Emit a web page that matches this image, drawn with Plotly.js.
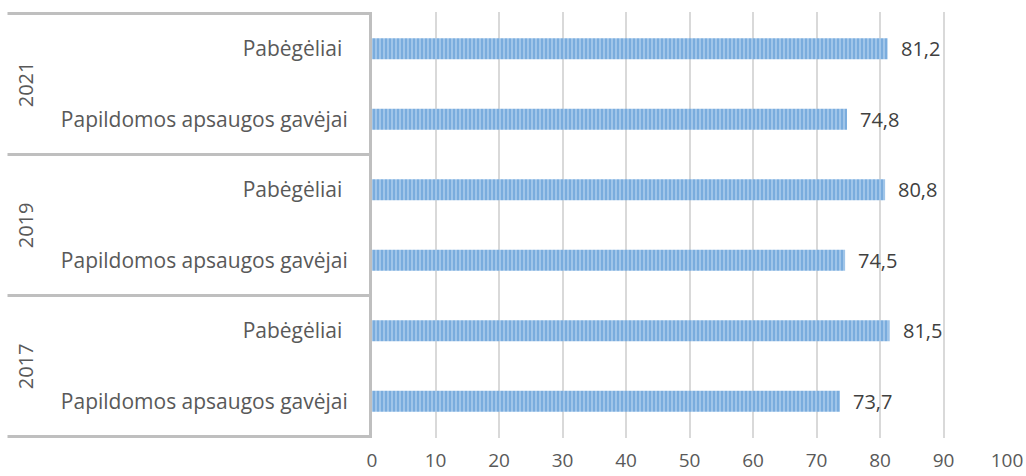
<!DOCTYPE html>
<html>
<head>
<meta charset="utf-8">
<script src="https://cdn.plot.ly/plotly-3.0.1.min.js"></script>
<style>html,body{margin:0;padding:0;background:#fff}#chart{width:1026px;height:476px}</style>
</head>
<body>
<div id="chart"></div>
<script>
// Data (bottom to top)
const years = ["2017", "2017", "2019", "2019", "2021", "2021"];
const groups = ["Papildomos apsaugos gavėjai", "Pabėgėliai ", "Papildomos apsaugos gavėjai", "Pabėgėliai ", "Papildomos apsaugos gavėjai", "Pabėgėliai "];
const values = [73.7, 81.5, 74.5, 80.8, 74.8, 81.2];
const yearLabels = ["2017", "2019", "2021"];
const xTicks = [0, 10, 20, 30, 40, 50, 60, 70, 80, 90, 100];

const keys = years.map((y, i) => y + "|" + i);
const font = "Open Sans, Noto Sans, sans-serif";

const trace = {
  type: "bar",
  orientation: "h",
  x: values,
  y: keys,
  width: 0.3,
  marker: {
    color: "#9DC3E6",
    line: {width: 0},
    pattern: {shape: "|", fgcolor: "#4F8FD0", bgcolor: "#A4C8EA", size: 4, solidity: 0.55, fillmode: "overlay"}
  },
  hoverinfo: "skip"
};

const annotations = values.map((v, i) => ({
  x: v, y: keys[i], xref: "x", yref: "y",
  text: v.toFixed(1).replace(".", ","),
  showarrow: false, xanchor: "left", yanchor: "middle", xshift: 11,
  font: {family: font, size: 20, color: "#404040"}
}));

const shapes = [];
// group dividers
const bounds = [-0.5, 1.5, 3.5, 5.5];
bounds.forEach(b => {
  shapes.push({type: "line", xref: "paper", yref: "y", x0: -0.574, x1: 0, y0: b, y1: b,
    line: {color: "#BFBFBF", width: 3}});
});

yearLabels.forEach((yl, g) => {
  annotations.push({
    xref: "paper", yref: "y", x: -0.546, y: g * 2 + 0.5,
    text: yl, textangle: -90, showarrow: false, xanchor: "center", yanchor: "middle",
    font: {family: font, size: 20, color: "#595959"}
  });
});

const layout = {
  width: 1026, height: 476,
  margin: {l: 372, r: 19, t: 12, b: 38},
  paper_bgcolor: "#fff", plot_bgcolor: "#fff",
  showlegend: false,
  xaxis: {
    range: [0, 100], tickvals: xTicks, ticktext: xTicks.map(String),
    showgrid: true, gridcolor: "#D9D9D9", gridwidth: 2,
    zeroline: false, showline: false, ticks: "",
    tickfont: {family: font, size: 19, color: "#595959"},
    ticklabelstandoff: 9, fixedrange: true
  },
  yaxis: {
    type: "category", categoryorder: "array", categoryarray: keys,
    tickvals: keys, ticktext: groups,
    showline: true, linecolor: "#BFBFBF", linewidth: 3,
    showgrid: false, zeroline: false, ticks: "",
    tickfont: {family: font, size: 21, color: "#595959"},
    ticklabelstandoff: 17, fixedrange: true
  },
  shapes: shapes,
  annotations: annotations
};

Plotly.newPlot("chart", [trace], layout, {displayModeBar: false, staticPlot: true});
</script>
</body>
</html>
